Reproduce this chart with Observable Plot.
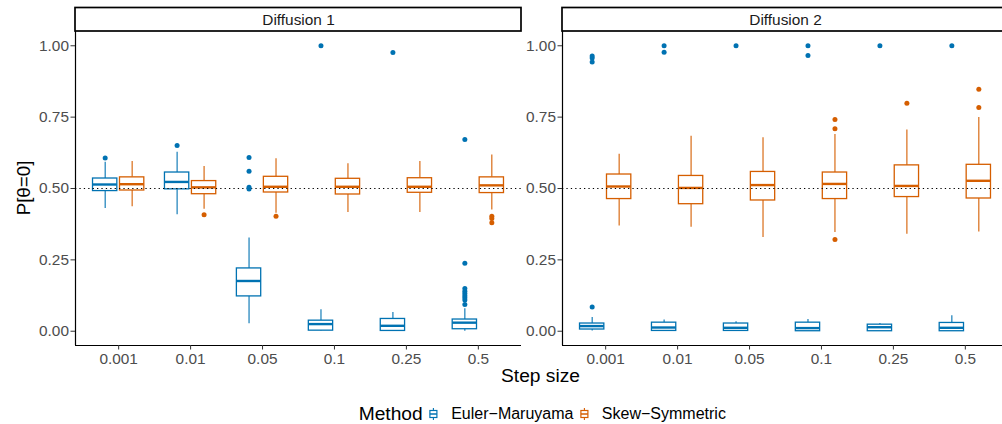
<!DOCTYPE html>
<html><head><meta charset="utf-8">
<script src="https://cdn.jsdelivr.net/npm/d3@7"></script>
<script src="https://cdn.jsdelivr.net/npm/@observablehq/plot@0.6"></script>
<style>
body{margin:0;background:#fff;font-family:"Liberation Sans",Arial,Helvetica,sans-serif;}
#wrap{position:relative;width:1002px;height:424px;overflow:hidden;background:#fff;}
#chart{position:absolute;left:0;top:0;width:1012px;}
#chart svg{max-width:none !important;}
.ytitle{position:absolute;left:24px;top:188px;transform:translate(-50%,-50%) rotate(-90deg);font-size:18.75px;color:#000;white-space:nowrap;}
.xtitle{position:absolute;left:540.5px;top:376px;transform:translate(-50%,-50%);font-size:19.2px;color:#000;white-space:nowrap;}
.legend{position:absolute;left:542.3px;top:414px;transform:translate(-50%,-50%);display:flex;align-items:center;white-space:nowrap;font-size:16px;color:#000;}
.legend .title{font-size:19.2px;margin-right:2px;}
.legend svg{display:block;}
</style></head>
<body><div id="wrap"><div id="chart"></div>
<div class="ytitle">P[θ=0]</div><div class="xtitle">Step size</div><div class="legend" id="legend"></div></div>
<script>
const steps = ["0.001", "0.01", "0.05", "0.1", "0.25", "0.5"];
const diffusions = ["Diffusion 1", "Diffusion 2"];
const methods = ["Euler−Maruyama", "Skew−Symmetric"];
const colors = ["#0072B2", "#D55E00"];
const yTicks = [0, 0.25, 0.5, 0.75, 1];
const reference = 0.5;

// [lower whisker, Q1, median, Q3, upper whisker] per step size
const d1Euler = [
  [0.430, 0.491, 0.514, 0.535, 0.592],
  [0.408, 0.497, 0.523, 0.556, 0.627],
  [0.026, 0.122, 0.176, 0.220, 0.327],
  [0.000, 0.002, 0.025, 0.037, 0.075],
  [0.000, 0.001, 0.019, 0.043, 0.066],
  [0.000, 0.007, 0.030, 0.041, 0.079]
];
const d1Skew = [
  [0.436, 0.493, 0.515, 0.539, 0.595],
  [0.427, 0.480, 0.504, 0.526, 0.577],
  [0.413, 0.486, 0.506, 0.541, 0.604],
  [0.416, 0.479, 0.506, 0.534, 0.587],
  [0.416, 0.485, 0.506, 0.536, 0.595],
  [0.425, 0.484, 0.511, 0.539, 0.617]
];
const d2Euler = [
  [0.001, 0.006, 0.018, 0.027, 0.048],
  [0.000, 0.001, 0.013, 0.030, 0.039],
  [0.000, 0.001, 0.012, 0.027, 0.033],
  [0.000, 0.000, 0.011, 0.030, 0.041],
  [0.000, 0.000, 0.014, 0.023, 0.027],
  [0.000, 0.000, 0.012, 0.029, 0.054]
];
const d2Skew = [
  [0.369, 0.463, 0.507, 0.549, 0.620],
  [0.364, 0.445, 0.502, 0.544, 0.683],
  [0.328, 0.458, 0.512, 0.558, 0.678],
  [0.346, 0.463, 0.516, 0.556, 0.689],
  [0.340, 0.470, 0.509, 0.581, 0.705],
  [0.348, 0.465, 0.527, 0.583, 0.749]
];

// outliers per step size
const d1EulerOut = [[0.607], [0.651], [0.609, 0.560, 0.504, 0.498], [1.0], [0.976],
  [0.672, 0.238, 0.150, 0.140, 0.132, 0.124, 0.117, 0.109, 0.094]];
const d1SkewOut = [[], [0.408], [0.403], [], [], [0.403, 0.395, 0.380]];
const d2EulerOut = [[0.964, 0.957, 0.943, 0.085], [1.0, 0.977], [1.0], [1.0, 0.966], [1.0], [1.0]];
const d2SkewOut = [[], [], [], [0.742, 0.709, 0.321], [0.799], [0.848, 0.784]];

const series = [
  [diffusions[0], methods[0], d1Euler, d1EulerOut],
  [diffusions[0], methods[1], d1Skew, d1SkewOut],
  [diffusions[1], methods[0], d2Euler, d2EulerOut],
  [diffusions[1], methods[1], d2Skew, d2SkewOut]
];

const boxes = [], outliers = [];
for (const [diff, method, stats, outs] of series) {
  const m = methods.indexOf(method);
  stats.forEach(([lo, q1, med, q3, hi], i) => boxes.push({diff, method, m, step: i + 1, lo, q1, med, q3, hi}));
  outs.forEach((vals, i) => vals.forEach(v => outliers.push({diff, method, m, step: i + 1, v})));
}

const xDom = [0.4, steps.length + 0.6];
const yDom = [-0.05, 1.05];
const dodge = 0.1875, half = 0.169;
const xc = d => d.step + (d.m === 0 ? -dodge : dodge);

const chart = Plot.plot({
  width: 1012,
  height: 372,
  marginLeft: 74.7,
  marginRight: 2.7,
  marginTop: 31,
  marginBottom: 27,
  style: {fontFamily: '"Liberation Sans", Arial, Helvetica, sans-serif', background: "white", maxWidth: "none"},
  fx: {domain: diffusions, padding: 0.0833, axis: null, label: null},
  x: {domain: xDom, label: null},
  y: {domain: yDom, label: null},
  color: {domain: methods, range: colors},
  marks: [
    Plot.ruleX(boxes, {fx: "diff", x: xc, y1: "lo", y2: "q1", stroke: "method", strokeWidth: 1.1}),
    Plot.ruleX(boxes, {fx: "diff", x: xc, y1: "q3", y2: "hi", stroke: "method", strokeWidth: 1.1}),
    Plot.rect(boxes, {fx: "diff", x1: d => xc(d) - half, x2: d => xc(d) + half, y1: "q1", y2: "q3", fill: "white", stroke: "method", strokeWidth: 1.3}),
    Plot.ruleY(boxes, {fx: "diff", x1: d => xc(d) - half, x2: d => xc(d) + half, y: "med", stroke: "method", strokeWidth: 2.4}),
    Plot.ruleY([reference], {stroke: "#000", strokeDasharray: "1.3,3.1", strokeWidth: 1}),
    Plot.dot(outliers, {fx: "diff", x: xc, y: "v", fill: "method", r: 2.5}),
    Plot.ruleX([xDom[0]], {stroke: "#000", strokeWidth: 1.2}),
    Plot.ruleY([yDom[0]], {stroke: "#000", strokeWidth: 1.2}),
    Plot.rect(diffusions, {fx: d => d, y1: () => yDom[1], y2: () => yDom[1], insetTop: -23.5, fill: "white", stroke: "#000", strokeWidth: 1.7}),
    Plot.text(diffusions, {fx: d => d, text: d => d, frameAnchor: "top", lineAnchor: "middle", dy: -11.75, fontSize: 15.4, fill: "#1A1A1A"}),
    Plot.axisY({ticks: yTicks, tickFormat: d3.format(".2f"), facetAnchor: null, tickSize: 4.5, tickPadding: 2, fontSize: 15.4, stroke: "#333333", fill: "#4D4D4D", label: null}),
    Plot.axisX({ticks: steps.map((s, i) => i + 1), tickFormat: i => steps[i - 1], tickSize: 4.5, tickPadding: 3, fontSize: 15.4, stroke: "#333333", fill: "#4D4D4D", label: null})
  ]
});
chart.style.maxWidth = "none";
document.getElementById("chart").appendChild(chart);

// legend
const legend = document.getElementById("legend");
const title = document.createElement("span");
title.className = "title";
title.textContent = "Method";
legend.appendChild(title);
methods.forEach((m, i) => {
  const c = colors[i];
  const key = document.createElement("span");
  key.innerHTML = `<svg width="18" height="18" viewBox="0 0 18 18">
    <line x1="9" x2="9" y1="3" y2="15" stroke="${c}" stroke-width="1.1"/>
    <rect x="5.5" y="5.5" width="7" height="7" fill="white" stroke="${c}" stroke-width="1.2"/>
    <line x1="5.5" x2="12.5" y1="9" y2="9" stroke="${c}" stroke-width="1.5"/></svg>`;
  key.style.margin = i === 0 ? "0 8.5px 0 0" : "0 8px 0 2.4px";
  legend.appendChild(key);
  const lab = document.createElement("span");
  lab.textContent = m;
  legend.appendChild(lab);
});
</script>
</body></html>
